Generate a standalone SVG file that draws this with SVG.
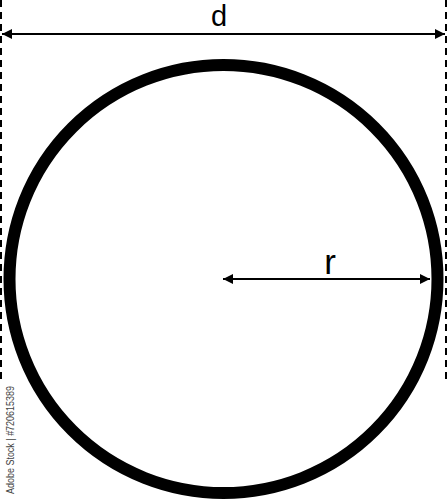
<svg xmlns="http://www.w3.org/2000/svg" width="447" height="500" viewBox="0 0 447 500">
<style>
.dim{stroke:#000;stroke-width:2;fill:none}
.dash{stroke:#000;stroke-width:2;stroke-dasharray:7 5;fill:none}
.lbl{font-family:"Liberation Sans",Arial,sans-serif;fill:#000;text-anchor:middle}
</style>
<defs>
<marker id="ah" viewBox="0 0 10 10" refX="10" refY="5" markerWidth="10" markerHeight="10" markerUnits="userSpaceOnUse" orient="auto-start-reverse">
<path d="M0,0 L10,5 L0,10 Z" fill="#000"/>
</marker>
</defs>
<rect width="447" height="500" fill="#fff"/>
<g id="circle">
<circle cx="223.5" cy="279" r="214" fill="none" stroke="#000" stroke-width="12"/>
</g>
<g id="guides">
<line class="dash" x1="1" y1="0" x2="1" y2="380"/>
<line class="dash" x1="446" y1="0" x2="446" y2="380"/>
</g>
<g id="connectors">
<line class="dim" x1="2" y1="34" x2="445" y2="34" marker-start="url(#ah)" marker-end="url(#ah)"/>
<line class="dim" x1="223" y1="279" x2="430" y2="279" marker-start="url(#ah)" marker-end="url(#ah)"/>
</g>
<g id="label-d"><text class="lbl" x="219" y="26" font-size="29">d</text></g>
<g id="label-r"><text class="lbl" x="330" y="274" font-size="35">r</text></g>
<g id="watermark"><text x="0" y="0" transform="translate(14,440) rotate(-90)" font-family="Liberation Sans,Arial,sans-serif" font-size="10" fill="#444" text-anchor="middle" textLength="108" lengthAdjust="spacingAndGlyphs">Adobe Stock | #720615389</text></g>
</svg>
